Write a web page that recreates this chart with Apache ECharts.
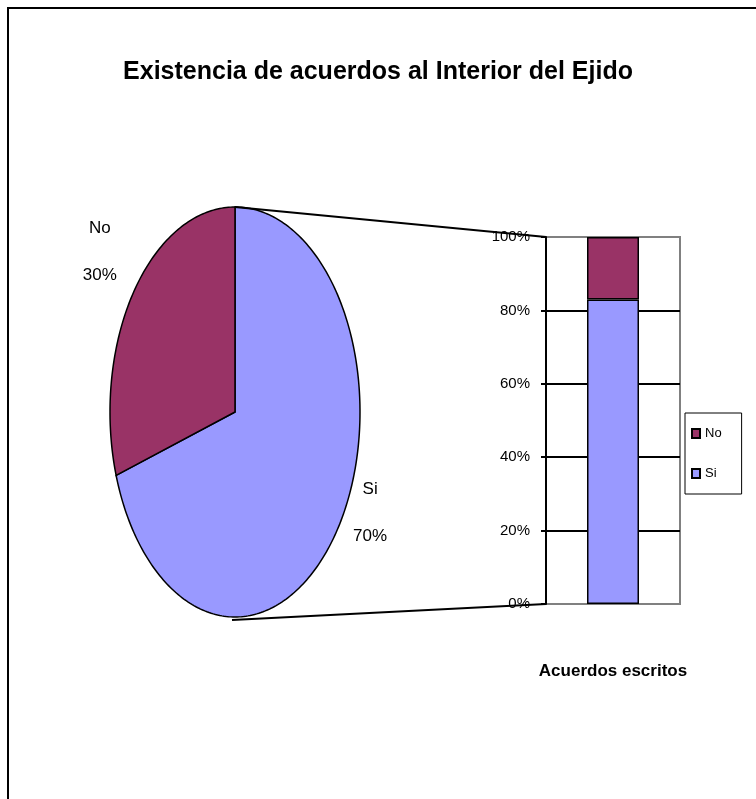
<!DOCTYPE html>
<html>
<head>
<meta charset="utf-8">
<script src="https://cdn.jsdelivr.net/npm/echarts/dist/echarts.min.js"></script>
<style>
  html, body { margin: 0; padding: 0; background: #fff; }
  #chart { width: 756px; height: 799px; }
</style>
</head>
<body>
<div id="chart"></div>
<script>
// datos del pastel (en orden horario desde las 12)
const pieNames = ['Si', 'No'];
const pieValues = [70, 30];
// barra de desglose
const barCategory = ['Acuerdos escritos'];
const barSi = [83];
const barNo = [17];
const legendNames = ['No', 'Si'];

const colorNo = '#993366';
const colorSi = '#9999ff';
const pieColors = { Si: colorSi, No: colorNo };

// geometria
const PIE = { cx: 235, cy: 412, rx: 125, ry: 205 };
const GRID = { left: 546, top: 237, width: 134, height: 367 };

const chart = echarts.init(document.getElementById('chart'));

// sector de elipse a partir de los valores
function renderPie(params, api) {
  const i = params.dataIndex;
  const total = pieValues.reduce((a, b) => a + b, 0);
  const before = pieValues.slice(0, i).reduce((a, b) => a + b, 0);
  const a0 = before / total * Math.PI * 2;
  const a1 = (before + api.value(0)) / total * Math.PI * 2;
  const pt = a => [PIE.cx + PIE.rx * Math.sin(a), PIE.cy - PIE.ry * Math.cos(a)];
  const points = [[PIE.cx, PIE.cy]];
  const steps = Math.max(4, Math.ceil((a1 - a0) / (Math.PI / 180)));
  for (let k = 0; k <= steps; k++) {
    points.push(pt(a0 + (a1 - a0) * k / steps));
  }
  const mid = (a0 + a1) / 2;
  const edge = pt(mid);
  const side = Math.sin(mid) >= 0 ? 1 : -1;
  const name = pieNames[i];
  const children = [
    {
      type: 'polygon',
      shape: { points: points },
      style: { fill: pieColors[name], stroke: '#000', lineWidth: 1.5 }
    },
    {
      type: 'text',
      style: {
        text: name + '\n' + Math.round(api.value(0) / total * 100) + '%',
        x: edge[0] + side * 34,
        y: edge[1] - 30 - 17 * Math.cos(mid),
        fill: '#000',
        font: '17px "Liberation Sans"',
        align: 'center',
        verticalAlign: 'middle',
        lineHeight: 47
      }
    }
  ];
  // lineas de conexion hacia la barra
  if (i === 0) {
    children.push({
      type: 'line',
      shape: { x1: PIE.cx, y1: PIE.cy - PIE.ry, x2: GRID.left, y2: GRID.top },
      style: { stroke: '#000', lineWidth: 2 }
    });
    children.push({
      type: 'line',
      shape: { x1: PIE.cx - 3, y1: PIE.cy + PIE.ry + 3, x2: GRID.left, y2: GRID.top + GRID.height },
      style: { stroke: '#000', lineWidth: 2 }
    });
  }
  return { type: 'group', children: children };
}

const option = {
  animation: false,
  backgroundColor: '#fff',
  title: {
    text: 'Existencia de acuerdos al Interior del Ejido',
    left: 'center',
    top: 55,
    textStyle: {
      fontFamily: 'Liberation Sans',
      fontSize: 25,
      fontWeight: 'bold',
      color: '#000'
    }
  },
  graphic: [
    {
      type: 'rect',
      z: -1,
      shape: { x: 8, y: 8, width: 800, height: 820 },
      style: { fill: 'none', stroke: '#000', lineWidth: 2 }
    }
  ],
  legend: {
    data: legendNames,
    orient: 'vertical',
    left: 685,
    top: 413,
    icon: 'rect',
    itemWidth: 8,
    itemHeight: 9,
    itemGap: 27,
    padding: [14, 20, 14, 6],
    borderColor: '#000',
    borderWidth: 1,
    textStyle: {
      fontFamily: 'Liberation Sans',
      fontSize: 13,
      color: '#000'
    }
  },
  grid: {
    left: GRID.left,
    top: GRID.top,
    width: GRID.width,
    height: GRID.height,
    show: true,
    borderColor: '#808080',
    borderWidth: 2
  },
  xAxis: {
    type: 'category',
    data: barCategory,
    axisLine: { show: false },
    axisTick: { show: false },
    axisLabel: { show: false },
    name: barCategory[0],
    nameLocation: 'middle',
    nameGap: 59,
    nameTextStyle: {
      fontFamily: 'Liberation Sans',
      fontSize: 17,
      fontWeight: 'bold',
      color: '#000'
    }
  },
  yAxis: {
    type: 'value',
    min: 0,
    max: 100,
    interval: 20,
    axisLine: { show: true, lineStyle: { color: '#000', width: 2 } },
    axisTick: { show: true, length: 5, lineStyle: { color: '#000', width: 2 } },
    axisLabel: {
      formatter: '{value}%',
      margin: 16,
      fontFamily: 'Liberation Sans',
      fontSize: 15,
      color: '#000'
    },
    splitLine: {
      lineStyle: {
        color: ['#808080', '#000', '#000', '#000', '#000', '#808080'],
        width: 2
      }
    }
  },
  series: [
    {
      name: 'Si',
      type: 'bar',
      stack: 'acuerdos',
      barWidth: 52,
      data: barSi,
      itemStyle: { color: colorSi, borderColor: '#000', borderWidth: 1.5 }
    },
    {
      name: 'No',
      type: 'bar',
      stack: 'acuerdos',
      barWidth: 52,
      data: barNo,
      itemStyle: { color: colorNo, borderColor: '#000', borderWidth: 1.5 }
    },
    {
      name: 'pastel',
      type: 'custom',
      coordinateSystem: 'none',
      renderItem: renderPie,
      data: pieValues,
      z: 3
    }
  ]
};

chart.setOption(option);
</script>
</body>
</html>
